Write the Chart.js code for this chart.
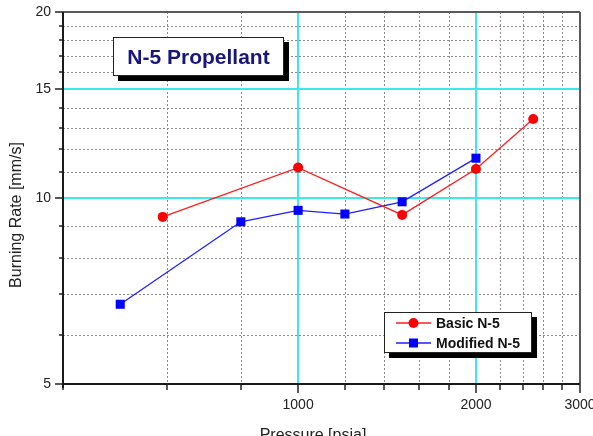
<!DOCTYPE html>
<html lang="en">
<head>
  <meta charset="UTF-8">
  <title>N-5 Propellant</title>
  <script src="https://cdn.jsdelivr.net/npm/chart.js"></script>
  <style>
    html, body {
      margin: 0;
      padding: 0;
      background: #fff;
    }
  </style>
</head>
<body>
<canvas id="rateChart" width="593" height="436"></canvas>

<script>
  // Data (log-log)
  const basicPressure = [590, 1000, 1500, 2000, 2500];
  const basicRate = [9.32, 11.2, 9.39, 11.14, 13.42];
  const modPressure = [500, 800, 1000, 1200, 1500, 2000];
  const modRate = [6.73, 9.15, 9.55, 9.42, 9.86, 11.6];

  const xTicks = [400, 600, 800, 1000, 1200, 1400, 1600, 1800, 2000, 2200, 2400, 2600, 2800, 3000];
  const xLabels = [1000, 2000, 3000];
  const yTicks = [5, 6, 7, 8, 9, 10, 11, 12, 13, 14, 15, 16, 17, 18, 19, 20];
  const yLabels = [5, 10, 15, 20];
  const xCyan = [1000, 2000];
  const yCyan = [10, 15];

  const FONT = "'Liberation Sans', Arial, sans-serif";

  function line(ctx, x1, y1, x2, y2) {
    ctx.beginPath();
    ctx.moveTo(x1, y1);
    ctx.lineTo(x2, y2);
    ctx.stroke();
  }

  function shadowBox(ctx, l, t, r, b) {
    ctx.fillStyle = '#000';
    ctx.fillRect(l + 5, t + 5, r - l, b - t);
    ctx.fillStyle = '#fff';
    ctx.fillRect(l, t, r - l, b - t);
    ctx.strokeStyle = '#222';
    ctx.lineWidth = 1;
    ctx.strokeRect(l + 0.5, t + 0.5, r - l - 1, b - t - 1);
  }

  // Grid, axes, tick marks and axis titles
  const framePlugin = {
    id: 'frame',
    beforeDatasetsDraw(chart) {
      const { ctx, chartArea: a, scales: { x, y } } = chart;
      ctx.save();

      // dotted minor grid
      ctx.strokeStyle = '#8a8a8a';
      ctx.lineWidth = 1;
      ctx.setLineDash([2, 2]);
      xTicks.forEach(v => {
        if (v === xTicks[0] || v === xTicks[xTicks.length - 1] || xCyan.includes(v)) return;
        const px = Math.round(x.getPixelForValue(v)) + 0.5;
        line(ctx, px, a.top, px, a.bottom);
      });
      yTicks.forEach(v => {
        if (v === yTicks[0] || v === yTicks[yTicks.length - 1] || yCyan.includes(v)) return;
        const py = Math.round(y.getPixelForValue(v)) + 0.5;
        line(ctx, a.left, py, a.right, py);
      });
      ctx.setLineDash([]);

      // cyan major grid
      ctx.strokeStyle = 'rgb(60,232,238)';
      ctx.lineWidth = 2;
      xCyan.forEach(v => {
        const px = Math.round(x.getPixelForValue(v));
        line(ctx, px, a.top, px, a.bottom);
      });
      yCyan.forEach(v => {
        const py = Math.round(y.getPixelForValue(v));
        line(ctx, a.left, py, a.right, py);
      });

      // top / right frame
      ctx.strokeStyle = '#5a5a5a';
      ctx.lineWidth = 2;
      line(ctx, a.left, a.top, a.right, a.top);
      line(ctx, a.right, a.top, a.right, a.bottom);

      // tick marks
      ctx.strokeStyle = '#222';
      ctx.lineWidth = 1.5;
      xTicks.forEach(v => {
        const px = Math.round(x.getPixelForValue(v));
        const len = xLabels.includes(v) ? 9 : 6;
        line(ctx, px, a.bottom, px, a.bottom + len);
      });
      yTicks.forEach(v => {
        const py = Math.round(y.getPixelForValue(v));
        const len = yLabels.includes(v) ? 8 : 4;
        line(ctx, a.left - len, py, a.left, py);
      });

      // left / bottom axes
      ctx.strokeStyle = '#1a1a1a';
      ctx.lineWidth = 2;
      line(ctx, a.left, a.top, a.left, a.bottom + 4);
      line(ctx, a.left, a.bottom, a.right, a.bottom);

      // axis titles
      ctx.fillStyle = '#222';
      ctx.font = '16px ' + FONT;
      ctx.textAlign = 'center';
      ctx.textBaseline = 'alphabetic';
      ctx.fillText('Pressure [psia]', 313, 440);
      ctx.save();
      ctx.translate(20.5, 215);
      ctx.rotate(-Math.PI / 2);
      ctx.fillText('Burning Rate [mm/s]', 0, 0);
      ctx.restore();

      ctx.restore();
    },
    afterDatasetsDraw(chart) {
      const { ctx } = chart;
      ctx.save();

      // title box
      shadowBox(ctx, 113, 37, 284, 76);
      ctx.fillStyle = '#16167e';
      ctx.font = 'bold 21px ' + FONT;
      ctx.textAlign = 'center';
      ctx.textBaseline = 'middle';
      ctx.fillText('N-5 Propellant', 198.5, 58);

      // legend box
      shadowBox(ctx, 384, 312, 532, 353);
      ctx.font = 'bold 14px ' + FONT;
      ctx.textAlign = 'left';
      const rows = [323, 343];
      chart.data.datasets.forEach((ds, i) => {
        const ly = rows[i];
        ctx.strokeStyle = ds.borderColor;
        ctx.lineWidth = 1.3;
        line(ctx, 396, ly, 431, ly);
        ctx.fillStyle = ds.backgroundColor;
        if (ds.pointStyle === 'circle') {
          ctx.beginPath();
          ctx.arc(413.5, ly, 5, 0, Math.PI * 2);
          ctx.fill();
        } else {
          ctx.fillRect(409, ly - 4.5, 9, 9);
        }
        ctx.fillStyle = '#111';
        ctx.fillText(ds.label, 436, ly + 1);
      });

      ctx.restore();
    }
  };

  const ctx = document.getElementById('rateChart').getContext('2d');
  const chart = new Chart(ctx, {
    type: 'scatter',
    data: {
      datasets: [{
        label: 'Basic N-5',
        data: basicPressure.map((p, i) => ({ x: p, y: basicRate[i] })),
        showLine: true,
        borderColor: 'rgb(255,30,30)',
        backgroundColor: 'rgb(255,0,0)',
        borderWidth: 1.3,
        pointStyle: 'circle',
        pointRadius: 5,
        pointBorderWidth: 0
      }, {
        label: 'Modified N-5',
        data: modPressure.map((p, i) => ({ x: p, y: modRate[i] })),
        showLine: true,
        borderColor: 'rgb(30,30,255)',
        backgroundColor: 'rgb(0,0,255)',
        borderWidth: 1.3,
        pointStyle: 'rect',
        pointRadius: 6.4,
        pointBorderWidth: 0
      }]
    },
    options: {
      responsive: false,
      animation: false,
      layout: { padding: { top: 12, right: 13, left: 0, bottom: 0 } },
      plugins: {
        legend: { display: false },
        tooltip: { enabled: false }
      },
      scales: {
        x: {
          type: 'logarithmic',
          min: 400,
          max: 3000,
          grid: { display: false, drawTicks: false },
          border: { display: false },
          afterBuildTicks: s => { s.ticks = xTicks.map(v => ({ value: v })); },
          afterFit: s => { s.height = 52; s.paddingLeft = 0; s.paddingRight = 0; },
          ticks: {
            autoSkip: false,
            maxRotation: 0,
            padding: 13,
            color: '#222',
            font: { family: FONT, size: 14 },
            callback: v => xLabels.includes(v) ? String(v) : ''
          }
        },
        y: {
          type: 'logarithmic',
          min: 5,
          max: 20,
          grid: { display: false, drawTicks: false },
          border: { display: false },
          afterBuildTicks: s => { s.ticks = yTicks.map(v => ({ value: v })); },
          afterFit: s => { s.width = 63; s.paddingTop = 0; s.paddingBottom = 0; },
          ticks: {
            autoSkip: false,
            padding: 12,
            color: '#222',
            font: { family: FONT, size: 14 },
            callback: v => yLabels.includes(v) ? String(v) : ''
          }
        }
      }
    },
    plugins: [framePlugin]
  });
</script>
</body>
</html>
